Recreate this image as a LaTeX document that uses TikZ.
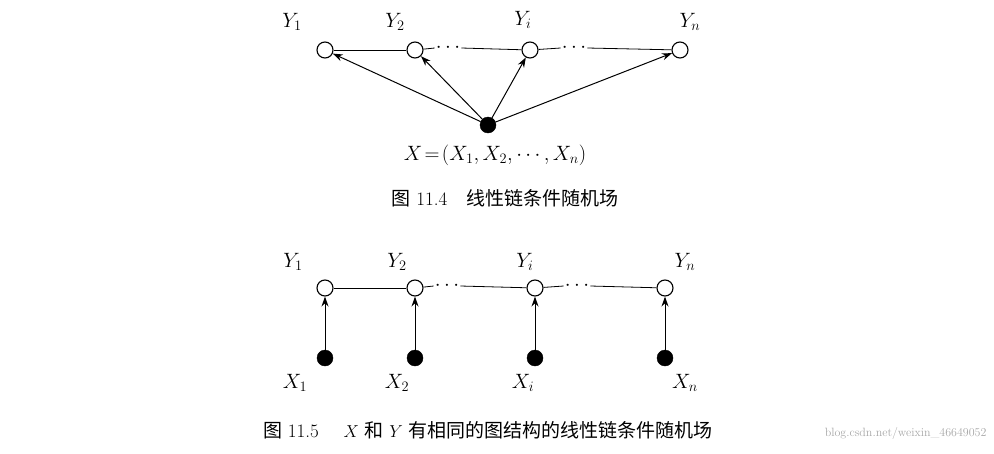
\documentclass[tikz,border=0pt]{standalone}
\usepackage{fontspec}
\newfontfamily\cjk{Noto Sans CJK SC}
\usetikzlibrary{arrows.meta}
\begin{document}
\begin{tikzpicture}[x=1pt,y=-1pt,
  wn/.style={circle,draw,line width=1.1pt,fill=white,minimum size=16pt,inner sep=0pt},
  bn/.style={circle,draw,fill=black,minimum size=16pt,inner sep=0pt},
  lbl/.style={font=\fontsize{21}{24}\selectfont},
  arr/.style={-{Stealth[length=10pt,width=7pt]},line width=1pt},
  ln/.style={line width=0.8pt},
  captext/.style={font=\fontsize{19}{22}\selectfont}]
\useasboundingbox (0,0) rectangle (994,453);
% top
\node[wn] (a1) at (325,50) {};
\node[wn] (a2) at (415,50) {};
\node[wn] (a3) at (530,50) {};
\node[wn] (a4) at (680,50) {};
\node[lbl,inner sep=1pt] (d1) at (448,48) {$\cdots$};
\node[lbl,inner sep=1pt] (d2) at (574,48) {$\cdots$};
\node[lbl] at (292,22) {$Y_1$};
\node[lbl] at (395,22) {$Y_2$};
\node[lbl] at (523,20) {$Y_i$};
\node[lbl] at (690,22) {$Y_n$};
\draw[ln] (a1)--(a2);
\draw[ln] (a2)--(d1.west);
\draw[ln] (d1.east)--(a3);
\draw[ln] (a3)--(d2.west);
\draw[ln] (d2.east)--(a4);
\node[bn] (x) at (488,125) {};
\foreach \t in {a1,a2,a3,a4} \draw[arr] (x)--(\t);
\node[lbl] at (495,155) {$X\!=\!(X_1,X_2,\cdots,X_n)$};
\node[captext] at (505,198) {{\cjk 图} 11.4\quad{\cjk 线性链条件随机场}};
% bottom
\foreach \i/\xx in {1/325,2/415,3/535,4/665}{
  \node[wn] (y\i) at (\xx,288) {};
  \node[bn] (x\i) at (\xx,358) {};
  \draw[arr] (x\i)--(y\i);
}
\node[lbl,inner sep=1pt] (e1) at (447,286) {$\cdots$};
\node[lbl,inner sep=1pt] (e2) at (577,286) {$\cdots$};
\draw[ln] (y1)--(y2);
\draw[ln] (y2)--(e1.west);
\draw[ln] (e1.east)--(y3);
\draw[ln] (y3)--(e2.west);
\draw[ln] (e2.east)--(y4);
\node[lbl] at (293,262) {$Y_1$};
\node[lbl] at (397,262) {$Y_2$};
\node[lbl] at (525,262) {$Y_i$};
\node[lbl] at (685,262) {$Y_n$};
\node[lbl] at (295,383) {$X_1$};
\node[lbl] at (397,383) {$X_2$};
\node[lbl] at (523,383) {$X_i$};
\node[lbl] at (685,383) {$X_n$};
\node[captext] at (488,430) {{\cjk 图} 11.5\quad\ $X$\ {\cjk 和}\ $Y$\ {\cjk 有相同的图结构的线性链条件随机场}};
\node[font=\fontsize{12}{14}\selectfont,text=black!35,anchor=east] at (990,433) {blog.csdn.net/weixin\_46649052};
\end{tikzpicture}
\end{document}
